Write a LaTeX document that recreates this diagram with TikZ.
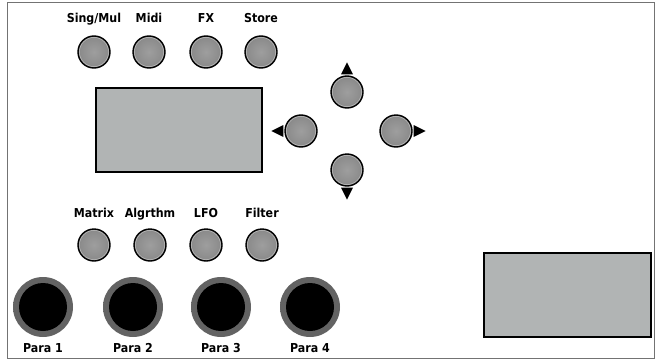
\documentclass[tikz,border=0pt]{standalone}
\usepackage{fontspec}
\setmainfont{DejaVu Sans}
\newfontfamily\lblfont[FakeStretch=0.9]{DejaVu Sans Bold}
\usetikzlibrary{calc}
\pgfdeclareradialshading{btnshade}{\pgfpoint{0bp}{0bp}}{color(0bp)=(black!38); color(30bp)=(black!48); color(50bp)=(black!58)}
\pgfdeclareradialshading{ringshade}{\pgfpoint{0bp}{0bp}}{color(0bp)=(black!60); color(39bp)=(black!62); color(50bp)=(black!32)}
\definecolor{lcdgray}{HTML}{B1B4B4}
\tikzset{
  btn/.style={circle, minimum size=32pt, inner sep=0pt, draw=black, line width=1.4pt, shading=btnshade,
    path picture={\draw[black!25, line width=0.5pt] (path picture bounding box.center) circle (14.6pt);}},
  knob/.style={circle, minimum size=60pt, inner sep=0pt, shading=ringshade,
    path picture={\fill[black] (path picture bounding box.center) circle (24pt);}},
  lbl/.style={font=\lblfont\fontsize{12.3pt}{14pt}\selectfont, inner sep=0pt, anchor=base},
  lcd/.style={draw=black, line width=2pt, fill=lcdgray},
  frame/.style={draw=black!55, line width=1pt}
}
\begin{document}
\begin{tikzpicture}[x=1pt, y=-1pt]
\useasboundingbox (0,0) rectangle (660,361);
\draw[frame] (7,3) rectangle (654,358);
% top buttons
\foreach \n/\x/\t in {a/94/Sing\slash Mul, b/149/Midi, c/206/FX, d/261/Store}{
  \node[btn] (\n) at (\x,52) {};
  \node[lbl] (\n l) at (\x,23) {\t};
}
% display
\node[lcd, minimum width=166pt, minimum height=84pt, inner sep=0pt] (disp) at (179,130) {};
% nav buttons
\node[btn] (up) at (347,92) {};
\node[btn] (left) at (301,131) {};
\node[btn] (right) at (396,131) {};
\node[btn] (down) at (347,170) {};
\fill ($(up.north)+(-6,-1)$) -- ($(up.north)+(6,-1)$) -- ($(up.north)+(0,-13)$) -- cycle;
\fill ($(down.south)+(-6,1)$) -- ($(down.south)+(6,1)$) -- ($(down.south)+(0,13)$) -- cycle;
\fill ($(left.west)+(-1,-6)$) -- ($(left.west)+(-1,6)$) -- ($(left.west)+(-13,0)$) -- cycle;
\fill ($(right.east)+(1,-6)$) -- ($(right.east)+(1,6)$) -- ($(right.east)+(13,0)$) -- cycle;
% bottom buttons
\foreach \n/\x/\t in {e/94/Matrix, f/150/Algrthm, g/206/LFO, h/262/Filter}{
  \node[btn] (\n) at (\x,245) {};
  \node[lbl] (\n l) at (\x,217) {\t};
}
% knobs
\foreach \n/\x/\t in {k1/43/Para 1, k2/133/Para 2, k3/221/Para 3, k4/310/Para 4}{
  \node[knob] (\n) at (\x,307) {};
  \node[lbl] (\n l) at (\x,352) {\t};
}
% second display
\node[lcd, minimum width=167pt, minimum height=84pt, inner sep=0pt] (disp2) at (567.5,295) {};
\end{tikzpicture}
\end{document}
